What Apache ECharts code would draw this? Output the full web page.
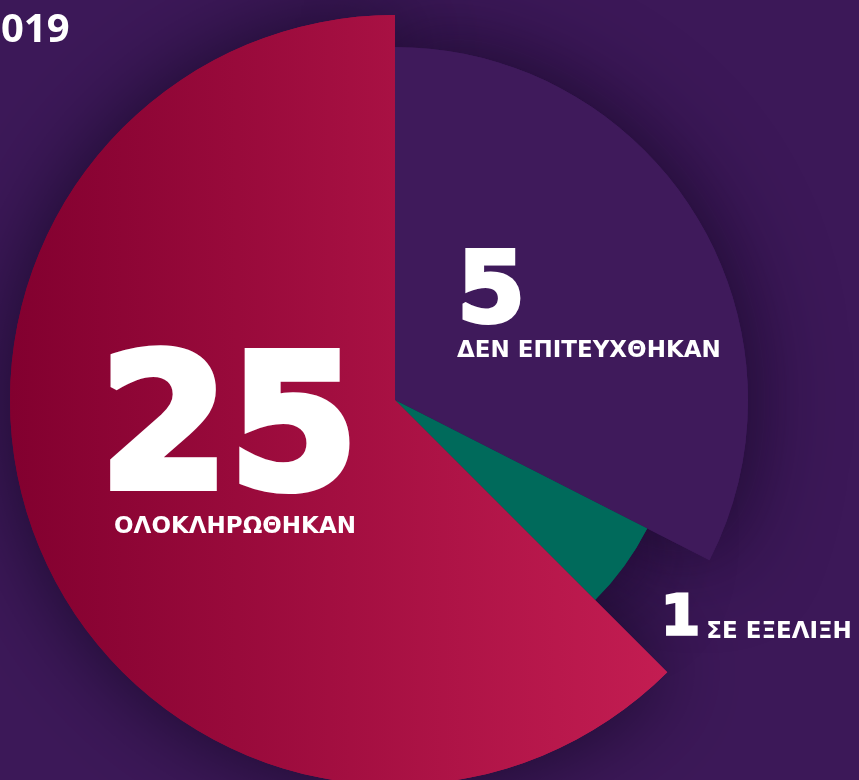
<!DOCTYPE html>
<html>
<head>
<meta charset="utf-8">
<script src="https://cdn.jsdelivr.net/npm/echarts@6/dist/echarts.min.js"></script>
<style>
  html, body { margin: 0; padding: 0; background: #3c1858; }
  #main { width: 859px; height: 780px; }
</style>
</head>
<body>
<div id="main"></div>
<script>
// slices, clockwise from 12 o'clock
var names = ['ΔΕΝ ΕΠΙΤΕΥΧΘΗΚΑΝ', 'ΣΕ ΕΞΕΛΙΞΗ', 'ΟΛΟΚΛΗΡΩΘΗΚΑΝ'];
var counts = [5, 1, 25];
// share of the circle each slice takes in the picture (%)
var shares = [32.5, 5, 62.5];
var yearLabel = '2019';

// styles, one per slice
var outerRadius = [353, 283, 385];
var sliceColors = [
  '#3f1a5b',
  '#006a5b',
  new echarts.graphic.LinearGradient(10, 0, 670, 0, [
    { offset: 0, color: '#82002f' },
    { offset: 1, color: '#c41d52' }
  ], true)
];
var labelPos = [
  { x: 457, y: 312, align: 'left' },
  { x: 661, y: 619, align: 'left' },
  { x: 235, y: 454, align: 'center' }
];
// number token: size, line height, stroke, right padding
var numStyle = [
  { size: 98, lh: 79, stroke: 4, pad: 0 },
  { size: 56, lh: 56, stroke: 3, pad: 0 },
  { size: 186, lh: 147, stroke: 8, pad: 12 }
];
var txtStyle = [
  { size: 23, lh: 30, va: 'middle', padL: 0, padB: 0 },
  { size: 23, lh: 44, va: 'bottom', padL: 3, padB: 3 },
  { size: 23, lh: 30, va: 'middle', padL: 0, padB: 0 }
];
var font = 'DejaVu Sans';

var chart = echarts.init(document.getElementById('main'));

function labelFor(i) {
  if (i == 1) {
    return '{n|' + counts[i] + '} {t|' + names[i] + '}';
  }
  return '{n|' + counts[i] + '}\n{t|' + names[i] + '}';
}

function makeSeries(idx, shadow) {
  var data = [];
  for (var i = 0; i < shares.length; i++) {
    var own = i == idx;
    data.push({
      value: shares[i],
      name: names[i],
      itemStyle: own ? {
        color: sliceColors[i],
        shadowBlur: shadow ? 90 : 0,
        shadowColor: 'rgba(14, 4, 28, 0.75)'
      } : { color: 'rgba(0,0,0,0)' },
      label: { show: own && !shadow }
    });
  }
  var ns = numStyle[idx], ts = txtStyle[idx];
  return {
    type: 'pie',
    silent: true,
    z: shadow ? 1 : 2,
    center: [395, 400],
    radius: [0, outerRadius[idx]],
    startAngle: 90,
    clockwise: true,
    animation: false,
    labelLine: { show: false },
    label: {
      position: 'inside',
      color: '#ffffff',
      formatter: function (p) { return labelFor(p.dataIndex); },
      align: labelPos[idx].align,
      rich: {
        n: {
          fontFamily: font,
          fontWeight: 900,
          color: '#ffffff',
          fontSize: ns.size,
          lineHeight: ns.lh,
          textBorderColor: '#ffffff',
          textBorderWidth: ns.stroke,
          padding: [0, ns.pad, 0, 0],
          align: labelPos[idx].align
        },
        t: {
          fontFamily: font,
          fontWeight: 'bold',
          color: '#ffffff',
          fontSize: ts.size,
          lineHeight: ts.lh,
          padding: [0, 0, ts.padB, ts.padL],
          align: labelPos[idx].align,
          verticalAlign: ts.va
        }
      }
    },
    labelLayout: function () {
      return {
        x: labelPos[idx].x,
        y: labelPos[idx].y,
        align: labelPos[idx].align,
        verticalAlign: 'middle'
      };
    },
    data: data
  };
}

var series = [];
for (var k = 0; k < shares.length; k++) {
  series.push(makeSeries(k, true));
}
for (var k = 0; k < shares.length; k++) {
  series.push(makeSeries(k, false));
}

var option = {
  backgroundColor: '#3c1858',
  graphic: [{
    type: 'text',
    x: -22,
    y: 11,
    style: {
      text: yearLabel,
      fill: '#ffffff',
      font: 'bold 40px "Noto Sans"'
    }
  }],
  series: series
};

chart.setOption(option);
</script>
</body>
</html>
